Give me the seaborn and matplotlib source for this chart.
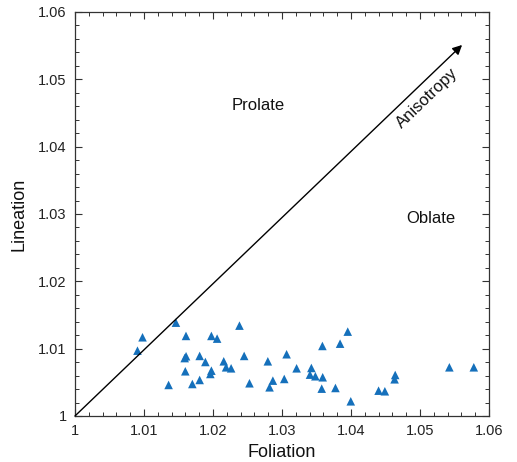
import matplotlib
matplotlib.use("Agg")
import matplotlib.pyplot as plt
from matplotlib.ticker import MultipleLocator
import seaborn as sns
import pandas as pd

# Magnetic fabric parameters: foliation (F) vs lineation (L)
foliation = [1.00906, 1.00979, 1.01463, 1.01609, 1.01357, 1.01610, 1.01590,
             1.01599, 1.01701, 1.01807, 1.01807, 1.01890, 1.01977, 1.02060,
             1.01977, 1.01962, 1.02156, 1.02190, 1.02263, 1.02384, 1.02452,
             1.02529, 1.02795, 1.02868, 1.02820, 1.03067, 1.03212, 1.03033,
             1.03426, 1.03406, 1.03484, 1.03586, 1.03590, 1.03576, 1.03775,
             1.03842, 1.03953, 1.03997, 1.04400, 1.04491, 1.04641, 1.04632,
             1.05426, 1.05780]
lineation = [1.00970, 1.01169, 1.01386, 1.01189, 1.00461, 1.00887, 1.00860,
             1.00664, 1.00475, 1.00892, 1.00535, 1.00802, 1.01189, 1.01149,
             1.00673, 1.00624, 1.00812, 1.00723, 1.00708, 1.01342, 1.00892,
             1.00486, 1.00812, 1.00525, 1.00426, 1.00917, 1.00708, 1.00550,
             1.00713, 1.00614, 1.00590, 1.01040, 1.00575, 1.00406, 1.00416,
             1.01074, 1.01253, 1.00218, 1.00376, 1.00367, 1.00609, 1.00545,
             1.00723, 1.00723]

tick_values = [1.00, 1.01, 1.02, 1.03, 1.04, 1.05, 1.06]
tick_labels = ["1", "1.01", "1.02", "1.03", "1.04", "1.05", "1.06"]

df = pd.DataFrame({"Foliation": foliation, "Lineation": lineation})

sns.set_style("ticks")
plt.rcParams["font.family"] = ["Liberation Sans", "DejaVu Sans"]
plt.rcParams["text.color"] = "#111111"
plt.rcParams["axes.labelcolor"] = "#111111"
plt.rcParams["xtick.labelcolor"] = "#222222"
plt.rcParams["ytick.labelcolor"] = "#222222"

fig = plt.figure(figsize=(5.17, 4.62), dpi=100)
ax = fig.add_axes([0.145, 0.0996, 0.8008, 0.8745])

sns.scatterplot(data=df, x="Foliation", y="Lineation", marker="^", s=38,
                color="#1570bb", edgecolor="none", ax=ax, zorder=3)

# Anisotropy arrow along the F = L diagonal
ax.annotate("", xy=(1.0561, 1.0551), xytext=(1.0, 1.0),
            arrowprops=dict(arrowstyle="-|>", color="black", lw=1.0,
                            mutation_scale=14, shrinkA=0, shrinkB=0))
ax.text(1.0510, 1.0472, "Anisotropy", rotation=44, ha="center", va="center",
        fontsize=12)
ax.text(1.0266, 1.0461, "Prolate", ha="center", va="center", fontsize=12)
ax.text(1.0516, 1.0294, "Oblate", ha="center", va="center", fontsize=12)

ax.set_xlim(1.0, 1.06)
ax.set_ylim(1.0, 1.06)
ax.set_xticks(tick_values)
ax.set_xticklabels(tick_labels)
ax.set_yticks(tick_values)
ax.set_yticklabels(tick_labels)
ax.xaxis.set_minor_locator(MultipleLocator(0.002))
ax.yaxis.set_minor_locator(MultipleLocator(0.002))
ax.tick_params(which="both", direction="in", top=True, right=True,
               labelsize=10.5, color="#333333")
ax.tick_params(which="major", length=5, width=0.8, pad=6)
ax.tick_params(which="minor", length=3, width=0.7)
for sp in ax.spines.values():
    sp.set_visible(True)
    sp.set_color("#333333")
    sp.set_linewidth(0.9)

ax.set_xlabel("Foliation", fontsize=13, labelpad=4)
ax.set_ylabel("Lineation", fontsize=13, labelpad=8)

fig.savefig("out.png", dpi=100)
